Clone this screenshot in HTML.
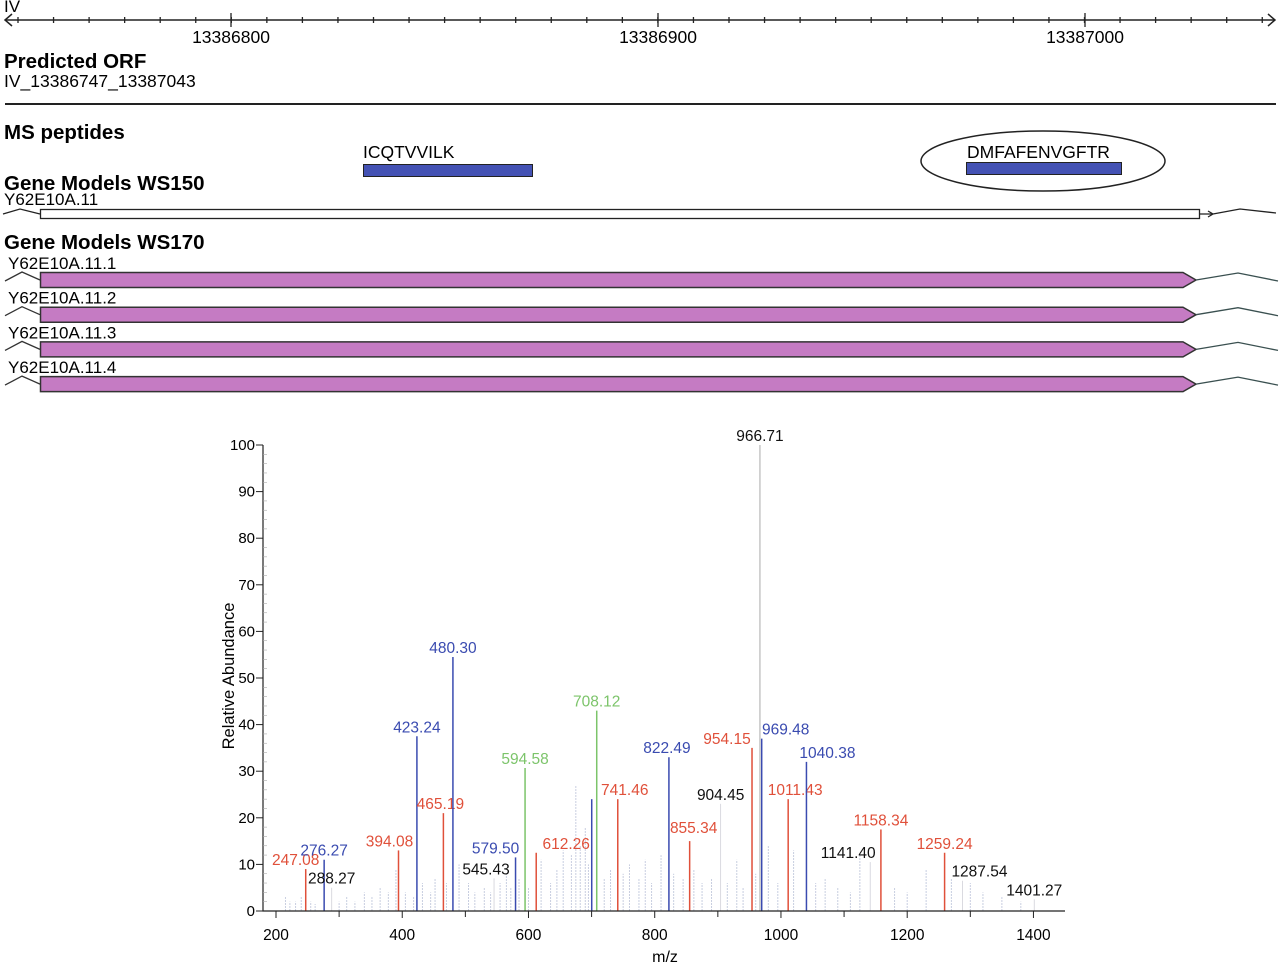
<!DOCTYPE html>
<html><head><meta charset="utf-8"><style>
html,body{margin:0;padding:0;background:#fff;}
svg{display:block;font-family:"Liberation Sans",Arial,sans-serif;}
</style></head><body>
<svg id="root" width="1280" height="965" viewBox="0 0 1280 965" xmlns="http://www.w3.org/2000/svg">
<g id="genome">
  <text x="4" y="12" font-size="17">IV</text>
  <line x1="5" y1="20" x2="1275" y2="20" stroke="#222" stroke-width="1.5"/>
  <path d="M12,14 L5,20 L12,26 M1268,14 L1275,20 L1268,26" fill="none" stroke="#222" stroke-width="1.5"/>
  <g id="gticks"></g>
  <text x="231" y="43" font-size="17.5" text-anchor="middle">13386800</text>
  <text x="658" y="43" font-size="17.5" text-anchor="middle">13386900</text>
  <text x="1085" y="43" font-size="17.5" text-anchor="middle">13387000</text>
  <text x="4" y="68" font-size="20.5" font-weight="bold">Predicted ORF</text>
  <text x="4" y="87" font-size="17.5">IV_13386747_13387043</text>
  <line x1="5" y1="104" x2="1276" y2="104" stroke="#222" stroke-width="2"/>
  <text x="4" y="139" font-size="20.5" font-weight="bold">MS peptides</text>
  <text x="363" y="158" font-size="17.5">ICQTVVILK</text>
  <rect x="363.5" y="164.5" width="169" height="12" fill="#4452b4" stroke="#222"/>
  <ellipse cx="1043" cy="161" rx="122" ry="30" fill="none" stroke="#222" stroke-width="1.5"/>
  <text x="967" y="158" font-size="17.5">DMFAFENVGFTR</text>
  <rect x="966.5" y="162.5" width="155" height="12" fill="#4452b4" stroke="#222"/>
  <text x="4" y="190" font-size="20.5" font-weight="bold">Gene Models WS150</text>
  <text x="4" y="205" font-size="17">Y62E10A.11</text>
  <path d="M3,214 L20,209 L40,214" fill="none" stroke="#222" stroke-width="1.3"/>
  <rect x="40.5" y="209.5" width="1159" height="9" fill="#fff" stroke="#222" stroke-width="1.3"/>
  <path d="M1200,214 L1212,214 M1208,211 L1213,214 L1208,217 M1213,214 L1240,209 L1276,213" fill="none" stroke="#222" stroke-width="1.3"/>
  <text x="4" y="249" font-size="20.5" font-weight="bold">Gene Models WS170</text>
  <g id="ws170"></g>
</g>
<g id="chart"></g>
</svg>
<script>
// spectrum data
const peakMz = [247.08,276.27,288.27,394.08,423.24,465.19,480.30,545.43,579.50,594.58,612.26,700.2,708.12,741.46,822.49,855.34,904.45,954.15,966.71,969.48,1011.43,1040.38,1141.40,1158.34,1259.24,1287.54,1401.27];
const peakIntensity = [9,11,5,13,37.5,21,54.5,7,11.5,30.7,12.5,24,43,24,33,15,23,35,100,37,24,32,10.5,17.5,12.5,6.5,2.5];
const peakColor = ["red","blue","black","red","blue","red","blue","black","blue","green","red","blue","green","red","blue","red","black","red","grey","blue","red","blue","black","red","red","black","black"];
const peakLabels = ["247.08","276.27","288.27","394.08","423.24","465.19","480.30","545.43","579.50","594.58","612.26","","708.12","741.46","822.49","855.34","904.45","954.15","966.71","969.48","1011.43","1040.38","1141.40","1158.34","1259.24","1287.54","1401.27"];
const labelDx = [-10,0,0,-9,0,-3,0,-8,-20,0,30,0,0,7,-2,4,0,-25,0,24,7,21,-22,0,0,17,0];
const labelDy = [0,0,0,0,0,0,0,0,0,0,0,0,0,0,0,-4,0,0,0,0,0,0,0,0,0,0,0];
const noiseMz = [215,222,231,240,255,262,300,312,325,340,352,365,378,390,405,418,432,445,452,470,490,505,515,530,540,555,565,572,585,600,620,635,645,655,668,675,682,690,695,720,730,750,760,775,785,795,810,830,845,862,875,890,915,930,940,960,980,995,1020,1055,1070,1090,1110,1125,1180,1200,1230,1270,1300,1320,1350,1380];
const noiseInt = [3,2,2,3,2,1.5,2,3,2,4,3,5,4,9,4,3,6,4,7,6,10,6,4,5,4,6,8,5,7,5,11,6,9,13,12,27,14,18,10,7,9,8,10,7,11,6,12,8,7,9,6,7,6,11,5,8,14,6,13,6,7,5,4,12,5,4,9,7,6,4,3,2];
const yTicks = [0,10,20,30,40,50,60,70,80,90,100];
const xTicks = [200,400,600,800,1000,1200,1400];
const xMinor = [300,500,700,900,1100,1300];
const wsLabels = ["Y62E10A.11.1","Y62E10A.11.2","Y62E10A.11.3","Y62E10A.11.4"];

const NS="http://www.w3.org/2000/svg";
function mk(tag, attrs, parent){const e=document.createElementNS(NS,tag);for(const k in attrs)e.setAttribute(k,attrs[k]);parent.appendChild(e);return e;}
const X = mz => 276 + (mz-200)*0.6312;
const Y = v => 911 - v*4.66;
const colors = {red:"#e0503a",blue:"#3a4bb0",green:"#7cc46a",black:"#d0d0d8",grey:"#aaa"};
const textColors = {red:"#e0503a",blue:"#3a4bb0",green:"#7cc46a",black:"#111",grey:"#111"};

const gt=document.getElementById('gticks');
for(let i=0;i<36;i++){const x=18+i*35.55; if(x>1268)break;
  const t=mk('line',{x1:x,y1:17,x2:x,y2:23,stroke:'#222','stroke-width':1.3},gt);
   }
[231,658,1085].forEach(x=>{const t=mk('line',{x1:x,y1:13,x2:x,y2:27,stroke:'#222','stroke-width':1.3},gt);
   });

const ws=document.getElementById('ws170');
wsLabels.forEach((lab,i)=>{const y0=272+i*34.7;
  const tx=mk('text',{x:8,y:y0-3,'font-size':17},ws); tx.textContent=lab;
   
  const l=mk('path',{d:`M5,${y0+9} L22,${y0} L40,${y0+8}`,fill:'none',stroke:'#333','stroke-width':1.3},ws);
   
  const p=mk('path',{d:`M40.5,${y0+0.5} L1183,${y0+0.5} L1196,${y0+8} L1183,${y0+15.5} L40.5,${y0+15.5} Z`,fill:'#c57bc3',stroke:'#333','stroke-width':1.5},ws);
   
  const r=mk('path',{d:`M1196,${y0+8} L1238,${y0+1} L1278,${y0+9}`,fill:'none',stroke:'#3a5050','stroke-width':1.3},ws);
   
});

const ch=document.getElementById('chart');
noiseMz.forEach((m,i)=>{const l=mk('line',{x1:X(m),y1:911,x2:X(m),y2:Y(noiseInt[i]),stroke:'#c8cee0','stroke-width':1,'stroke-dasharray':'2,1'},ch);
   });
peakMz.forEach((m,i)=>{const c=peakColor[i];
  const l=mk('line',{x1:X(m),y1:911,x2:X(m),y2:Y(peakIntensity[i]),stroke:colors[c],'stroke-width':c==='black'?0.8:(c==='grey'?1:1.5)},ch);
   
  if(peakLabels[i]){const t=mk('text',{x:X(m)+labelDx[i],y:Y(peakIntensity[i])-4+labelDy[i],'font-size':15.5,'text-anchor':'middle',fill:textColors[c]},ch);
    t.textContent=peakLabels[i];
     }
});
const ax=mk('path',{d:'M263,445 L263,911 L1065,911',fill:'none',stroke:'#222','stroke-width':1.2},ch);
 
yTicks.forEach(v=>{const l=mk('line',{x1:256,y1:Y(v),x2:263,y2:Y(v),stroke:'#222'},ch);
   
  const t=mk('text',{x:255,y:Y(v)+5,'font-size':15,'text-anchor':'end'},ch); t.textContent=v;
   });
for(let v=2;v<100;v+=2){if(v%10===0)continue;const l=mk('line',{x1:263,y1:Y(v),x2:267,y2:Y(v),stroke:'#aaa','stroke-width':0.6},ch);
   }
xTicks.forEach(v=>{const l=mk('line',{x1:X(v),y1:911,x2:X(v),y2:918,stroke:'#222'},ch);
   
  const t=mk('text',{x:X(v),y:940,'font-size':15.5,'text-anchor':'middle'},ch); t.textContent=v;
   });
xMinor.forEach(v=>{const l=mk('line',{x1:X(v),y1:911,x2:X(v),y2:917,stroke:'#222'},ch);
   });
const xl=mk('text',{x:665,y:962,'font-size':16,'text-anchor':'middle'},ch); xl.textContent='m/z';
 
const yl=mk('text',{x:0,y:0,'font-size':16.5,'text-anchor':'middle',transform:'translate(234,676) rotate(-90)'},ch); yl.textContent='Relative Abundance';
 
</script>
</body></html>
